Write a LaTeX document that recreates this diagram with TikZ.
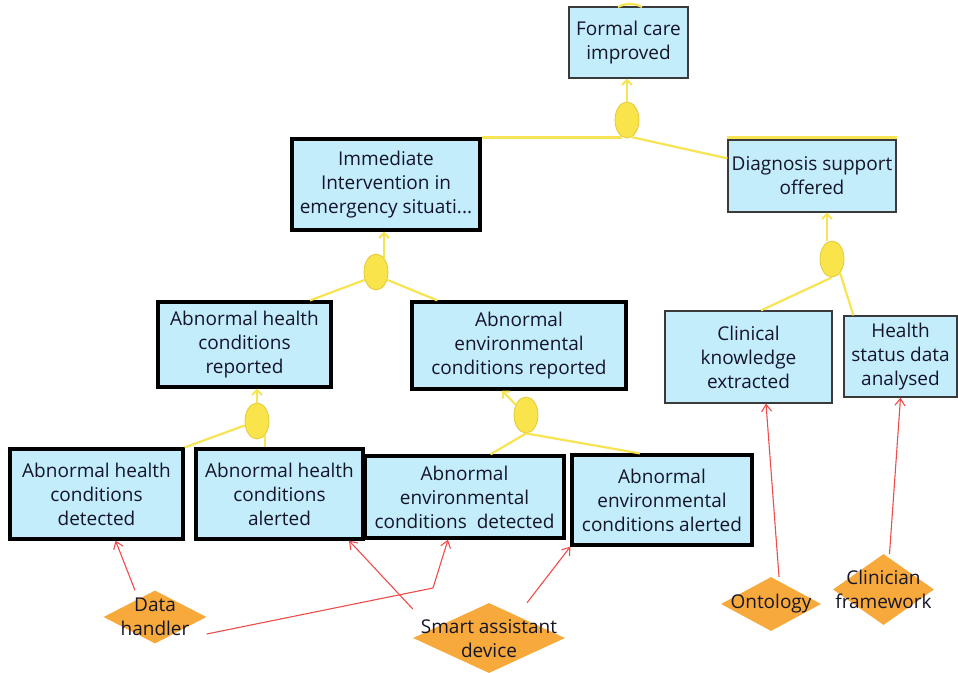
\documentclass[tikz,border=0pt]{standalone}
\usepackage{fontspec}
\setmainfont{Open Sans}
\usetikzlibrary{arrows.meta,shapes.geometric}
\definecolor{goalfill}{HTML}{C3EDFB}
\definecolor{thinline}{HTML}{3A3A3A}
\definecolor{ink}{HTML}{15152A}
\definecolor{andfill}{HTML}{F9E44C}
\definecolor{andline}{HTML}{E2C83A}
\definecolor{linkyellow}{HTML}{F8E353}
\definecolor{actorfill}{HTML}{F7A93B}
\definecolor{deplink}{HTML}{F04B4B}
\begin{document}
\begin{tikzpicture}[x=1pt,y=-1pt,
  txt/.style={font=\fontsize{19}{24}\selectfont, text=ink, align=center, inner sep=0pt},
  goal/.style={txt, rectangle, fill=goalfill, draw=thinline, line width=1.2pt},
  keygoal/.style={goal, draw=black, line width=3.2pt},
  andnode/.style={ellipse, fill=andfill, draw=andline, line width=0.8pt,
    minimum width=24pt, minimum height=36pt, inner sep=0pt},
  actor/.style={diamond, fill=actorfill, draw=none, inner sep=0pt},
  yline/.style={draw=linkyellow, line width=2.2pt},
  yarrow/.style={yline, -{Straight Barb[length=5pt,width=10pt,line width=2pt]}},
  rarrow/.style={draw=deplink, line width=1.1pt, -{Straight Barb[length=7pt,width=10pt]}},
  rline/.style={draw=deplink, line width=1.1pt}]
\useasboundingbox (0,0) rectangle (958,672);

% goals
\node[goal, minimum width=119pt, minimum height=71pt] (formal) at (628.5,42.5) {Formal care\\improved};
\node[keygoal, minimum width=188pt, minimum height=91pt] (imm) at (386,184.5) {Immediate\\Intervention in\\emergency situati...};
\node[goal, minimum width=168pt, minimum height=72pt] (diag) at (812,176) {Diagnosis support\\offered};
\node[keygoal, minimum width=173pt, minimum height=85pt] (hrep) at (244.5,344.5) {Abnormal health\\conditions\\reported};
\node[keygoal, minimum width=214pt, minimum height=87pt] (erep) at (519,345.5) {Abnormal\\environmental\\conditions reported};
\node[goal, minimum width=167pt, minimum height=92pt] (clin) at (748.5,357) {Clinical\\knowledge\\extracted};
\node[goal, minimum width=113pt, minimum height=81pt] (hsda) at (900.5,356.5) {Health\\status data\\analysed};
\node[keygoal, minimum width=173pt, minimum height=90pt] (hdet) at (96.5,494) {Abnormal health\\conditions\\detected};
\node[keygoal, minimum width=167pt, minimum height=90pt] (halt) at (279.5,494) {Abnormal health\\conditions\\alerted};
\node[keygoal, minimum width=199pt, minimum height=82pt] (edet) at (464.5,497) {Abnormal\\environmental\\conditions\ \ detected};
\node[keygoal, minimum width=180pt, minimum height=90pt] (ealt) at (662,500) {Abnormal\\environmental\\conditions alerted};

% AND decompositions
\node[andnode] (a1) at (627,120) {};
\node[andnode] (a2) at (832,259) {};
\node[andnode] (a3) at (376,272) {};
\node[andnode] (a4) at (257,421) {};
\node[andnode] (a5) at (526,415) {};

% links of the top decomposition
\draw[yline] (618,7) .. controls (625,3) and (635,3) .. (642,7);
\draw[yline] ([yshift=2pt]diag.north west) -- ([yshift=2pt]diag.north east);
\draw[yarrow] (a1.north) -- (a1.north |- formal.south);
\draw[yline] (a1.250) -- (a1.250 |- imm.north east) -- (imm.north east);
\draw[yline] (a1.285) -- ([yshift=-19pt]diag.north west);

\draw[yarrow] ([xshift=-5pt]a2.north) -- ([xshift=-5pt]a2.north |- diag.south);
\draw[yline] (a2.south) -- ([xshift=12.5pt]clin.north);
\draw[yline] (a2.300) -- ([xshift=10pt]hsda.north west);

\draw[yarrow] (a3.60) -- (a3.60 |- imm.south);
\draw[yline] (a3.215) -- ([xshift=65.5pt]hrep.north);
\draw[yline] (a3.325) -- ([xshift=27pt]erep.north west);

\draw[yarrow] (a4.north) -- (a4.north |- hrep.south);
\draw[yline] (a4.200) -- (hdet.north east);
\draw[yline] (a4.300) -- (a4.300 |- halt.north);

\draw[yarrow] (a5.135) -- ([xshift=-17pt]erep.south);
\draw[yline] (a5.south) -- ([xshift=26pt]edet.north);
\draw[yline] (a5.south) -- ([xshift=-22pt]ealt.north);

% actors
\node[actor, minimum width=103pt, minimum height=53pt] (dh) at (155,617) {};
\node[txt] (dhtext) at (dh.center) {Data\\handler};
\node[actor, minimum width=152pt, minimum height=70pt] (sa) at (489,638) {};
\node[txt] (satext) at (489,639) {Smart assistant\\device};
\node[actor, minimum width=100pt, minimum height=54pt] (ont) at (771,604) {};
\node[txt] (onttext) at (ont.center) {Ontology};
\node[actor, minimum width=101pt, minimum height=71pt] (cf) at (883.5,589.5) {};
\node[txt] (cftext) at (cf.center) {Clinician\\framework};

% dependencies
\coordinate (bend) at (433,588);
\draw[rarrow] ([xshift=-20pt]dh.north) -- ([xshift=19pt]hdet.south);
\draw[rline] ([yshift=-17pt]dh.east) -- (bend);
\draw[rarrow] (bend) -- ([xshift=-16.5pt]edet.south);
\draw[rarrow] ([yshift=29pt]sa.west) -- ([xshift=69.5pt]halt.south);
\draw[rarrow] ([xshift=38pt]sa.north) -- (ealt.south west);
\draw[rarrow] ([xshift=8pt]ont.north) -- ([xshift=17.5pt]clin.south);
\draw[rarrow] ([xshift=6pt]cf.north) -- (hsda.south);
\end{tikzpicture}
\end{document}
